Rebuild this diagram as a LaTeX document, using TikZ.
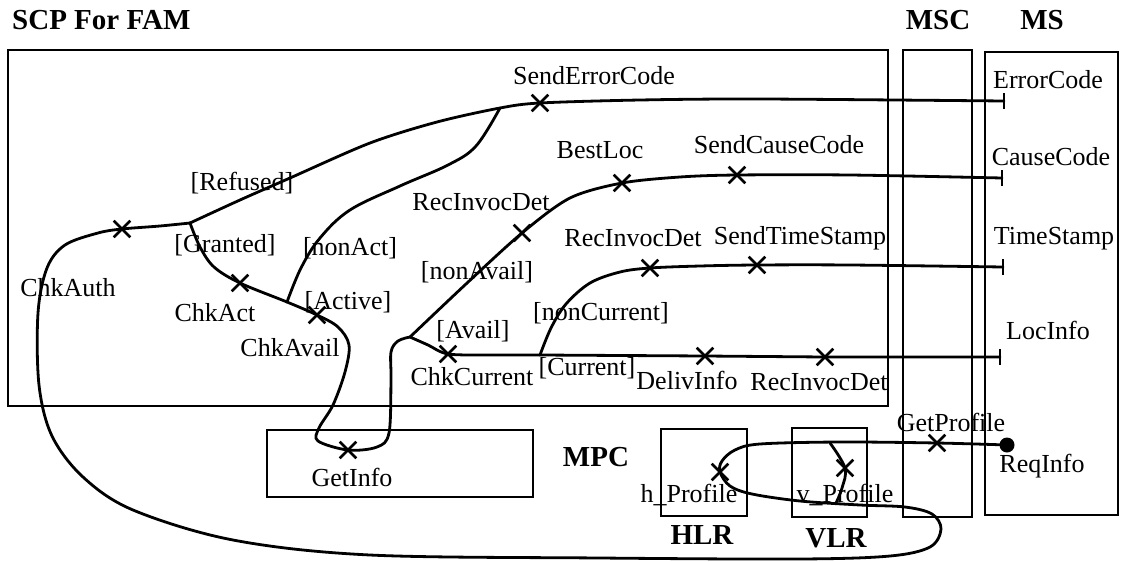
\documentclass[tikz,border=0pt]{standalone}
\usepackage{fontspec}
\setmainfont{Liberation Serif}
\usetikzlibrary{shapes.misc}
\begin{document}
\begin{tikzpicture}[x=1pt,y=-1pt,
  box/.style={draw, line width=2pt},
  ucm/.style={line width=2.8pt, line join=round, line cap=round},
  resp/.style={cross out, draw, line width=2.6pt, minimum size=14pt, inner sep=0pt},
  lbl/.style={font=\fontsize{26}{28}\selectfont, inner sep=0pt},
  ttl/.style={font=\fontsize{29}{32}\selectfont\bfseries, inner sep=0pt},
  endbar/.style={line width=2.8pt}
]
\useasboundingbox (0,0) rectangle (1124,562);

% ---------- components ----------
\draw[box] (8,50) rectangle (888,406);
\draw[box] (903,50) rectangle (972,517);
\draw[box] (985,52) rectangle (1118,515);
\draw[box] (267,430) rectangle (533,497);
\draw[box] (661,429) rectangle (747,516);
\draw[box] (792,428) rectangle (867,517);

\node[ttl, anchor=west] (tscp) at (12,20) {SCP For FAM};
\node[ttl] (tmsc) at (938,20) {MSC};
\node[ttl] (tms) at (1042,20) {MS};
\node[ttl] (tmpc) at (596,457) {MPC};
\node[ttl] (thlr) at (702,535) {HLR};
\node[ttl] (tvlr) at (836,538) {VLR};

% ---------- responsibilities ----------
\node[resp] (chkauth) at (122,229) {};
\node[resp] (chkact) at (240,283) {};
\node[resp] (chkavail) at (317,315) {};
\node[resp] (getinfo) at (348,450) {};
\node[resp] (senderr) at (540,103) {};
\node[resp] (recinv1) at (522,233) {};
\node[resp] (bestloc) at (622,183) {};
\node[resp] (sendcause) at (737,175) {};
\node[resp] (recinv2) at (650,268) {};
\node[resp] (sendts) at (757,265) {};
\node[resp] (chkcur) at (448,354) {};
\node[resp] (deliv) at (705,356) {};
\node[resp] (recinv3) at (825,357) {};
\node[resp] (getprof) at (937,443) {};
\node[resp] (hprof) at (720,472) {};
\node[resp] (vprof) at (845,468) {};

% start point
\node[circle, fill, minimum size=15pt, inner sep=0pt] (start) at (1007,445) {};

% junctions and end points
\coordinate (j1) at (190,223);
\coordinate (j2) at (500,108);
\coordinate (j3) at (287,302);
\coordinate (j4) at (410,337);
\coordinate (j5) at (540,355);
\coordinate (e1) at (1004,101);
\coordinate (e2) at (1002,178);
\coordinate (e3) at (1003,267);
\coordinate (e4) at (1000,357);
\coordinate (vs) at (830,443);
\coordinate (ve) at (836,503);

% ---------- paths ----------
\draw[ucm] plot[smooth, tension=0.55] coordinates {
  (start.center) (getprof.center) (840,442) (760,444) (735,450) (722,461)
  (hprof.center) (730,486) (752,494) (800,501) (860,505) (905,507)
  (932,514) (941,529) (930,547) (890,556) (800,559) (600,558) (370,555)
  (233,540) (133,510) (83,477) (52,436) (39,385) (38,313) (47,268) (65,245)
  (98,233) (chkauth.center) (160,226) (j1)};

\draw[ucm] plot[smooth, tension=0.5] coordinates {
  (j1) (240,200) (290,178) (370,143) (437,122) (j2) (senderr.center)
  (640,100) (760,99) (e1)};

\draw[ucm] plot[smooth, tension=0.55] coordinates {
  (j1) (200,247) (214,267) (chkact.center) (j3) (chkavail.center)
  (338,327) (349,345) (345,372) (333,405) (319,428) (318,441)
  (getinfo.center) (377,447) (389,433) (391,380) (391,352) (398,341) (j4)};

\draw[ucm] plot[smooth, tension=0.6] coordinates {
  (j3) (301,268) (320,238) (350,210) (400,186) (448,165) (476,146) (j2)};

\draw[ucm] plot[smooth, tension=0.5] coordinates {
  (j4) (466,284) (recinv1.center) (570,198) (bestloc.center) (680,177)
  (sendcause.center) (850,175) (e2)};

\draw[ucm] plot[smooth, tension=0.5] coordinates {
  (j4) (428,345) (chkcur.center) (490,355) (j5)};
\draw[ucm] (j5) -- (deliv.center) -- (recinv3.center) -- (e4);

\draw[ucm] plot[smooth, tension=0.55] coordinates {
  (j5) (551,328) (566,304) (590,283) (620,272) (recinv2.center) (700,266)
  (sendts.center) (850,265) (e3)};

\draw[ucm] plot[smooth, tension=0.6] coordinates {
  (vs) (vprof.center) (842,488) (ve)};

% end bars
\foreach \e in {e1,e2,e3,e4}
  \draw[endbar] (\e) ++(0,-8) -- ++(0,16);

% ---------- labels ----------
\node[lbl] (lerrc) at (1048,80) {ErrorCode};
\node[lbl] (lcausec) at (1051,157) {CauseCode};
\node[lbl] (ltimes) at (1054,239) {TimeStamp};
\node[lbl] (lloc) at (1048,330) {LocInfo};
\node[lbl] (lsenderr) at (594,76) {SendErrorCode};
\node[lbl] (lbestloc) at (600,150) {BestLoc};
\node[lbl] (lsendcause) at (779,145) {SendCauseCode};
\node[lbl] (lrecinv1) at (481,202) {RecInvocDet};
\node[lbl] (lrecinv2) at (633,238) {RecInvocDet};
\node[lbl] (lsendts) at (800,238) {SendTimeStamp};
\node[lbl] (lref) at (242,183) {[Refused]};
\node[lbl] (lgrant) at (225,245) {[Granted]};
\node[lbl] (lnonact) at (350,248) {[nonAct]};
\node[lbl] (lactive) at (348,302) {[Active]};
\node[lbl] (lchkact) at (215,313) {ChkAct};
\node[lbl] (lchkavail) at (290,348) {ChkAvail};
\node[lbl] (lchkauth) at (68,288) {ChkAuth};
\node[lbl] (lnonavail) at (477,272) {[nonAvail]};
\node[lbl] (lavail) at (473,331) {[Avail]};
\node[lbl] (lchkcur) at (472,377) {ChkCurrent};
\node[lbl] (lcur) at (587,368) {[Current]};
\node[lbl] (lnoncur) at (601,313) {[nonCurrent]};
\node[lbl] (ldeliv) at (687,380) {DelivInfo};
\node[lbl] (lrecinv3) at (819,382) {RecInvocDet};
\node[lbl] (lgetinfo) at (352,477) {GetInfo};
\node[lbl] (lhprof) at (689,495) {h\_Profile};
\node[lbl] (lvprof) at (845,495) {v\_Profile};
\node[lbl] (lgetprof) at (951,422) {GetProfile};
\node[lbl] (lreq) at (1042,466) {ReqInfo};
\end{tikzpicture}
\end{document}
